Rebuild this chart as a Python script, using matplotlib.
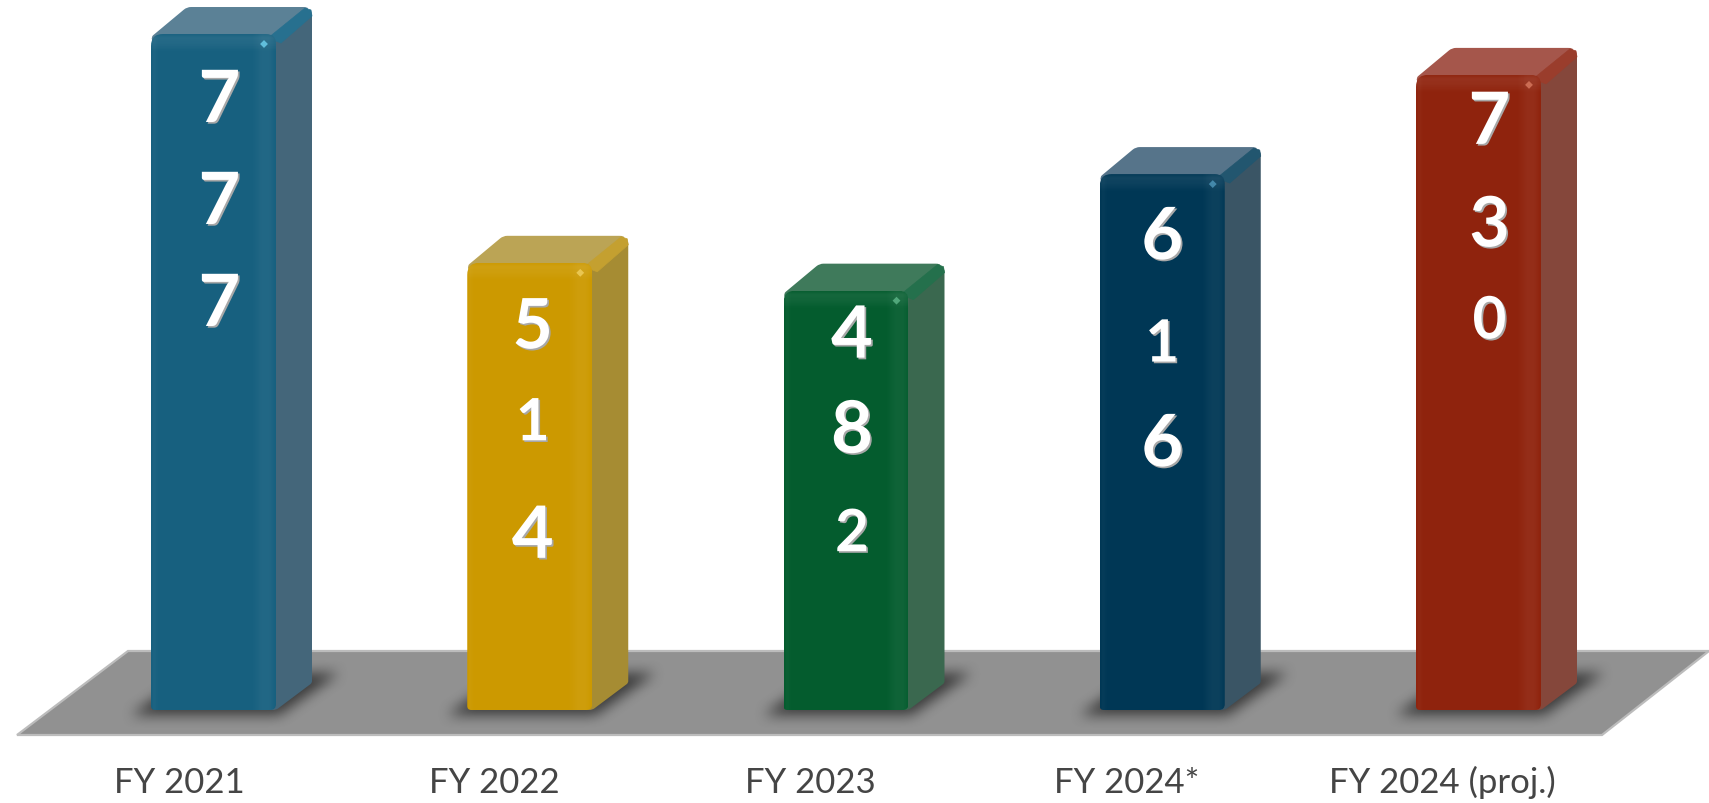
import numpy as np
import matplotlib
matplotlib.use("Agg")
import matplotlib.pyplot as plt
import matplotlib.patheffects as pe
from matplotlib.path import Path
from matplotlib.patches import PathPatch, Polygon

categories = ["FY 2021", "FY 2022", "FY 2023", "FY 2024*", "FY 2024 (proj.)"]
values = [777, 514, 482, 616, 730]
front_colors = ["#17607F", "#CC9900", "#045C2E", "#003755", "#8F230D"]
side_colors = ["#44667A", "#A68C33", "#3A684F", "#3A5565", "#85473B"]
top_colors = ["#5B8196", "#BBA455", "#3F7A5B", "#56748A", "#A5564B"]
rim_colors = ["#27708F", "#C4A030", "#24704C", "#22566F", "#9A3D2C"]
spec_colors = ["#6FD3F0", "#F0D060", "#5FB78A", "#4F98BC", "#D87A60"]

W, H = 1709, 804
PX_CAT = 316.25
PX_VAL = 0.87
X0_PX = 213.5
BASE_PX = 711
BAR_W = 125
DX, DY = 36, 27

xlim = (-X0_PX / PX_CAT, (W - X0_PX) / PX_CAT)
ylim = (-(H - BASE_PX) / PX_VAL, BASE_PX / PX_VAL)

sx = lambda p: p / PX_CAT
sy = lambda p: p / PX_VAL
fx = lambda p: xlim[0] + p / PX_CAT
fy = lambda p: ylim[1] - p / PX_VAL

# digit centres, px below the bar's front top, and px offset from bar centre
digit_offsets = [[61, 163, 265], [60, 156, 268], [40, 135, 239], [58, 166, 265], [42, 146, 242]]
digit_dx = [6, 3, 6, 0, 11]
digit_size = {"0": 42, "1": 42, "2": 42, "3": 50, "4": 52, "5": 50, "6": 52, "7": 52, "8": 52}

plt.rcParams["font.family"] = ["Lato", "DejaVu Sans"]
fig = plt.figure(figsize=(W / 100, H / 100), dpi=100)
ax = fig.add_axes([0, 0, 1, 1])
ax.set_axis_off()
ax.set_xlim(*xlim)
ax.set_ylim(*ylim)


def rounded(points, radii):
    """Closed path through points with rounded corners (radii in px)."""
    verts, codes = [], []
    n = len(points)
    s = np.array([PX_CAT, PX_VAL])
    for k in range(n):
        p = np.array(points[k])
        a = np.array(points[k - 1])
        b = np.array(points[(k + 1) % n])
        r = radii[k]
        ua = (a - p) * s
        ub = (b - p) * s
        ua = ua / np.hypot(*ua)
        ub = ub / np.hypot(*ub)
        p1 = p + ua * r / s
        p2 = p + ub * r / s
        verts += [p1, p, p2]
        codes += [Path.LINETO if k else Path.MOVETO, Path.CURVE3, Path.CURVE3]
    verts.append(verts[0])
    codes.append(Path.CLOSEPOLY)
    return Path(verts, codes)


# floor
floor = Polygon(
    [(fx(17), fy(736)), (fx(128), fy(652)), (fx(1709), fy(652)), (fx(1602), fy(736))],
    closed=True, facecolor="#919191", edgecolor="#bcbcbc", linewidth=1.6, zorder=1,
)
ax.add_patch(floor)

# soft shadows
yy, xx = np.mgrid[0:H, 0:W]
pts = np.column_stack([xx.ravel() + 0.5, yy.ravel() + 0.5])
mask = np.zeros((H, W))
for i in range(len(values)):
    c = X0_PX + PX_CAT * i
    l = c - BAR_W / 2
    poly = Path([(l - 20, 716), (l + 128, 716), (l + 188, 674), (l + 40, 674)])
    mask += poly.contains_points(pts).reshape(H, W)
kernel = np.ones(15) / 15
for _ in range(2):
    mask = np.apply_along_axis(lambda m: np.convolve(m, kernel, mode="same"), 1, mask)
    mask = np.apply_along_axis(lambda m: np.convolve(m, kernel, mode="same"), 0, mask)
shadow = np.zeros((H, W, 4))
shadow[..., 3] = np.clip(mask, 0, 1) * 0.6
ax.imshow(shadow, extent=(*xlim, *ylim), aspect="auto", origin="upper", zorder=2, interpolation="nearest")

hw = sx(BAR_W) / 2
ddx, ddy = sx(DX), sy(DY)

for i, v in enumerate(values):
    l, r = i - hw, i + hw
    # side face
    side = rounded([(r - sx(10), 0), (r - sx(10), v), (r, v), (r + ddx, v + ddy), (r + ddx, ddy), (r, 0)],
                   [0, 0, 0, 9, 2, 3])
    ax.add_patch(PathPatch(side, facecolor=side_colors[i], edgecolor="none", zorder=3))
    # top face, extended below the front face so its rounded corners show no gap
    top = rounded([(l + sx(4), v - sy(14)), (l, v - sy(3)), (l + ddx, v + ddy),
                   (r + ddx, v + ddy), (r, v), (r - sx(4), v - sy(14))],
                  [0, 3, 4, 9, 2, 0])
    ax.add_patch(PathPatch(top, facecolor=top_colors[i], edgecolor="none", zorder=3))
    # lighter rim on the ridge between top and side
    rim = Polygon(
        [(r - sx(8), v - sy(4)), (r + ddx - sx(7), v + ddy - sy(1)), (r + ddx - sx(1), v + ddy - sy(3)),
         (r + ddx, v + ddy - sy(9)), (r + sx(5), v - sy(9))],
        closed=True, facecolor=rim_colors[i], edgecolor=rim_colors[i], linewidth=0.5,
        joinstyle="round", zorder=3.2,
    )
    ax.add_patch(rim)

    # front face
    clip = PathPatch(
        rounded([(l, 0), (l, v), (r, v), (r, 0)], [4, 12, 10, 6]),
        facecolor="none", edgecolor="none", transform=ax.transData,
    )
    ax.add_patch(clip)
    bar = ax.bar(i, v, width=2 * hw, bottom=0, color=front_colors[i], zorder=4)[0]
    bar.set_clip_path(clip)

    # bevel highlights on front face
    nx, ny = 125, 60
    px = np.arange(nx) + 0.5
    py = np.arange(ny) + 0.5
    alpha_h = np.interp(px, [0, 3, 8, 100, 112, 118, 125], [0.0, 0.03, 0.0, 0.0, 0.05, 0.05, 0.0])
    alpha_v = np.interp(py, [0, 4, 10, 18, 60], [0.02, 0.07, 0.05, 0.0, 0.0])
    top_img = np.zeros((ny, nx, 4))
    top_img[..., :3] = 1
    top_img[..., 3] = alpha_v[:, None]
    im = ax.imshow(top_img, extent=(l, r, v - sy(60), v), aspect="auto", origin="upper",
                   zorder=4.2, interpolation="bilinear")
    im.set_clip_path(clip)
    side_img = np.zeros((1, nx, 4))
    side_img[..., :3] = 1
    side_img[..., 3] = alpha_h
    im = ax.imshow(side_img, extent=(l, r, 0, v), aspect="auto", origin="upper",
                   zorder=4.2, interpolation="bilinear")
    im.set_clip_path(clip)

    # specular spot
    ax.scatter([r - sx(12)], [v - sy(10)], s=16, marker="D", color=spec_colors[i],
               edgecolors="none", alpha=0.8, zorder=4.5)

    # digits
    for ch, off in zip(str(v), digit_offsets[i]):
        ax.text(i + sx(digit_dx[i]), v - sy(off), ch, ha="center", va="center_baseline",
                fontsize=digit_size[ch], fontweight="bold", color="white", zorder=5,
                path_effects=[pe.withSimplePatchShadow(offset=(1.2, -1.2), shadow_rgbFace="#a8a8a8", alpha=1.0)])

# category labels
label_px = [179, 494, 810, 1127, 1442]
for i, lab in enumerate(categories):
    ax.text(fx(label_px[i]), fy(793), lab, ha="center", va="baseline", fontsize=25,
            fontweight="normal", color="#454545", zorder=6)

ax.set_xlim(*xlim)
ax.set_ylim(*ylim)
fig.savefig("out.png", dpi=100, facecolor="white")
